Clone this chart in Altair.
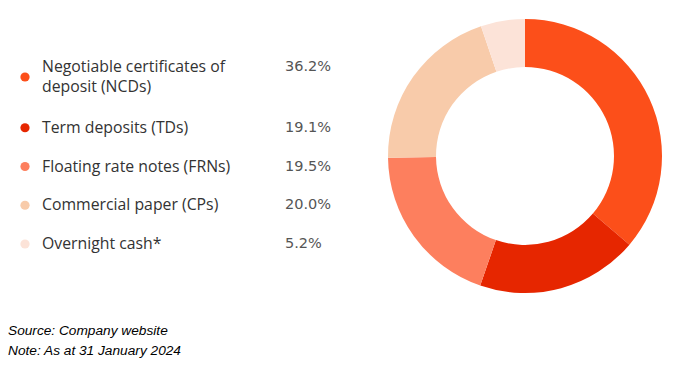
import altair as alt
import pandas as pd

categories = [
    "Negotiable certificates of\ndeposit (NCDs)",
    "Term deposits (TDs)",
    "Floating rate notes (FRNs)",
    "Commercial paper (CPs)",
    "Overnight cash*",
]
values = [36.2, 19.1, 19.5, 20.0, 5.2]
pct_labels = ["36.2%", "19.1%", "19.5%", "20.0%", "5.2%"]
colors = ["#FC4F1A", "#E62600", "#FD7F5E", "#F8CBAA", "#FCE3D8"]
notes = ["Source: Company website", "Note: As at 31 January 2024"]

df = pd.DataFrame({
    "category": categories,
    "value": values,
    "pct": pct_labels,
    "idx": list(range(len(categories))),
})

# legend row layout derived from the number of text lines in each label
EXTRA = 0.31      # extra row height per additional text line (in row units)
HALF_LINE = 0.26  # half a text line (in row units)
lines = df["category"].str.count("\n") + 1
extra_before = ((lines - 1) * EXTRA).cumsum().shift(fill_value=0)
df["pos"] = df["idx"] + extra_before
df["text_pos"] = df["pos"] - (lines - 1) * HALF_LINE

W, H = 663, 353
y_scale = alt.Scale(domain=[0, 4.31], range=[69, 236])

color_enc = alt.Color("category:N", scale=alt.Scale(domain=categories, range=colors), legend=None)

base = alt.Chart(df)

donut = base.mark_arc(radius=137, radius2=89, strokeWidth=0).encode(
    theta=alt.Theta("value:Q", stack=True),
    order=alt.Order("idx:Q", sort="ascending"),
    color=color_enc,
    x=alt.value(517),
    y=alt.value(148),
)

dots = base.mark_circle(size=85, opacity=1).encode(
    x=alt.value(17),
    y=alt.Y("pos:Q", scale=y_scale, axis=None),
    color=color_enc,
)

labels = base.mark_text(
    align="left", baseline="middle", font="Open Sans", fontSize=15.8,
    color="#333333", lineBreak="\n", lineHeight=20,
).encode(
    x=alt.value(34),
    y=alt.Y("text_pos:Q", scale=y_scale, axis=None),
    text="category:N",
)

pcts = base.mark_text(
    align="left", baseline="middle", font="DejaVu Sans", fontSize=14.5, color="#555555",
).encode(
    x=alt.value(277),
    y=alt.Y("text_pos:Q", scale=y_scale, axis=None),
    text="pct:N",
)

notes_df = pd.DataFrame({"t": ["\n".join(notes)]})
footer = alt.Chart(notes_df).mark_text(
    align="left", baseline="top", font="Liberation Sans", fontStyle="italic",
    fontSize=13.7, color="#000000", lineBreak="\n", lineHeight=20,
).encode(
    x=alt.value(0),
    y=alt.value(316),
    text="t:N",
)

chart = alt.layer(donut, dots, labels, pcts, footer).properties(
    width=W, height=H, autosize=alt.AutoSizeParams(type="none"), padding=0,
    background="white",
).configure_view(stroke="transparent", strokeWidth=0)

chart.save("out.html", embed_options={"renderer": "svg", "actions": False})
